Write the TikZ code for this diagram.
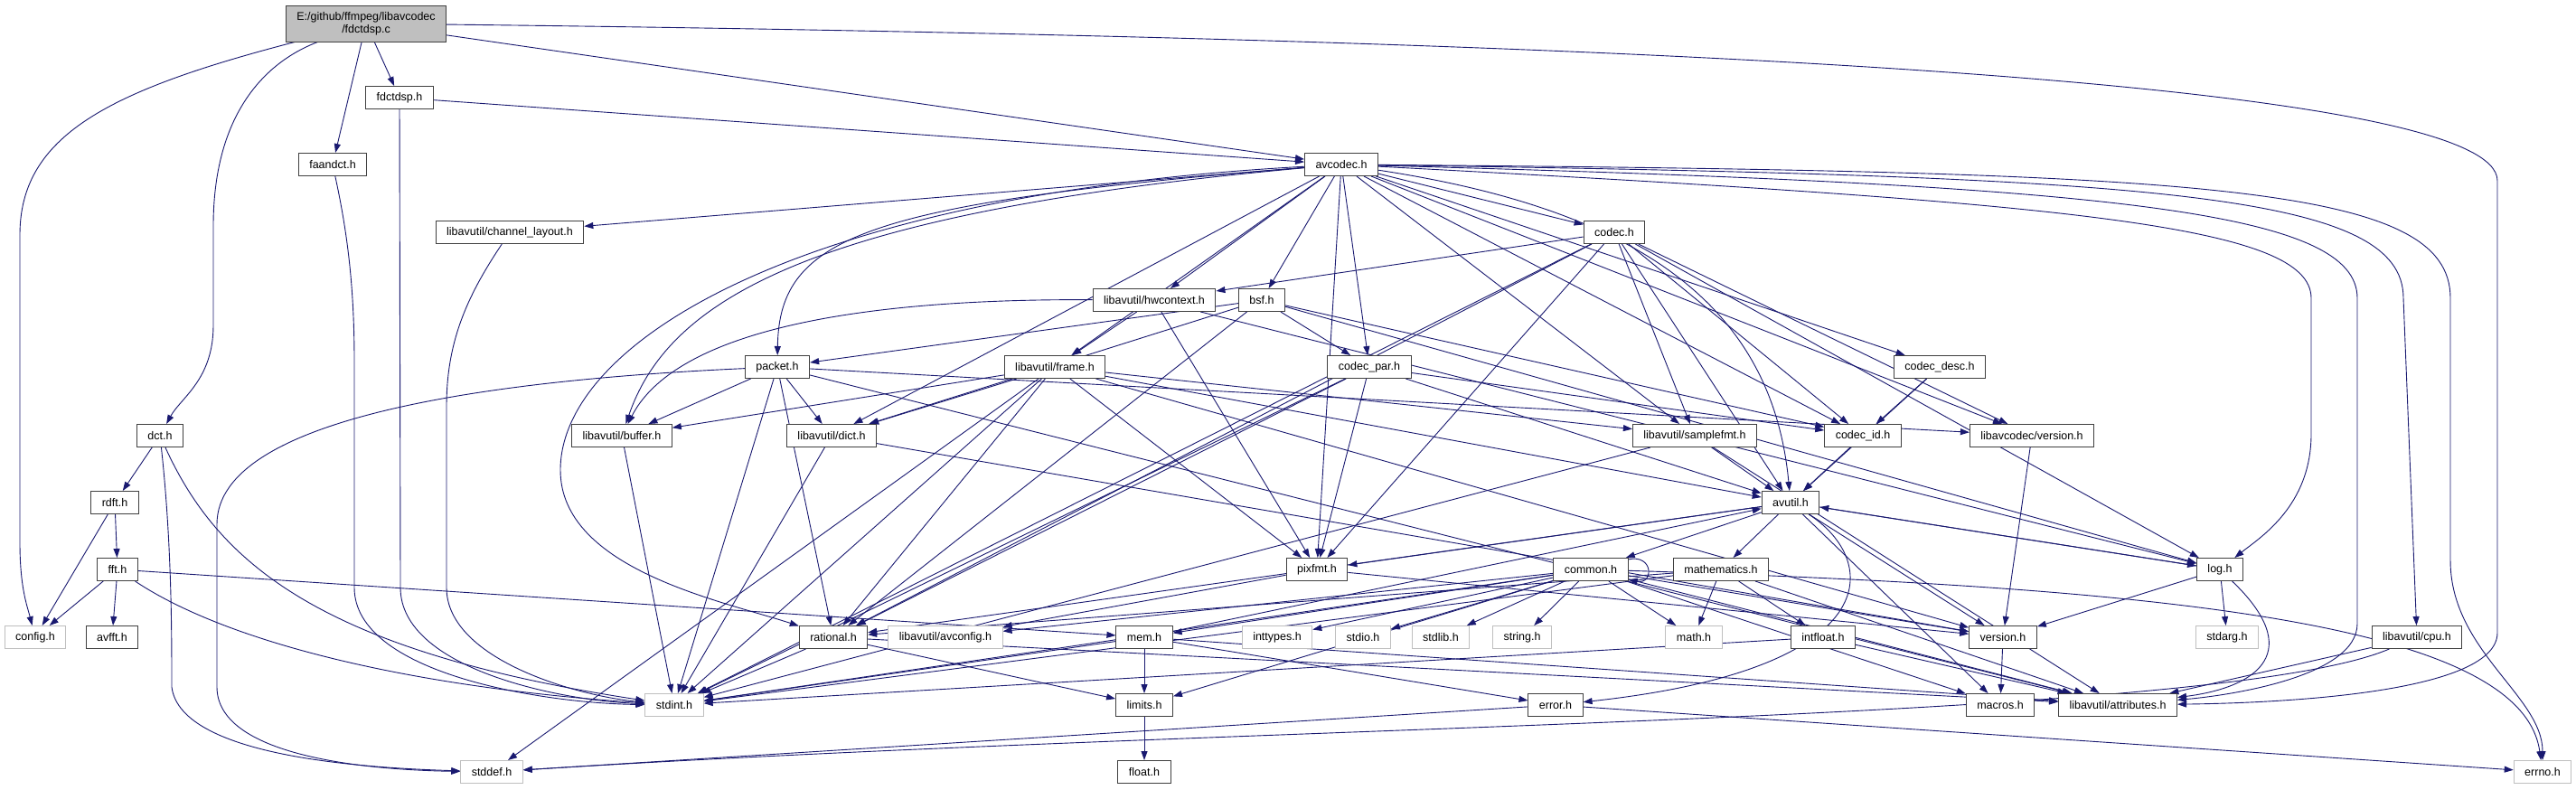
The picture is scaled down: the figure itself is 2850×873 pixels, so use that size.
\documentclass[tikz,border=0pt]{standalone}
\usepackage{fontspec}
\setmainfont{Liberation Sans}
\usetikzlibrary{arrows.meta}
\definecolor{edgeblue}{HTML}{191970}
\definecolor{boxgray}{HTML}{BFBFBF}
\definecolor{boxdark}{HTML}{404040}
\pgfdeclarelayer{back}
\pgfsetlayers{back,main}
\begin{document}
\begin{tikzpicture}[x=1pt, y=-1pt,
    hdr/.style={draw=boxdark, fill=white, line width=1pt, inner xsep=12pt,
      inner ysep=0pt, minimum height=25pt, font=\fontsize{12.5}{14}\selectfont},
    syshdr/.style={hdr, draw=boxgray},
    rootbox/.style={hdr, fill=boxgray, align=center, minimum height=40pt},
    incl/.style={draw=edgeblue, line width=0.9pt, -{Triangle[length=10pt,width=7pt]}}]
  \useasboundingbox (0,0) rectangle (2850,873);
  \node[rootbox] (root) at (405,26) {E:/github/ffmpeg/libavcodec\\/fdctdsp.c};
  \node[hdr] (fdctdsph) at (442,108) {fdctdsp.h};
  \node[hdr] (faandct) at (368,182) {faandct.h};
  \node[hdr] (chlayout) at (564,257) {libavutil/channel\_layout.h};
  \node[hdr] (avcodec) at (1484,182) {avcodec.h};
  \node[hdr] (hwctx) at (1277,332) {libavutil/hwcontext.h};
  \node[hdr] (bsf) at (1396,332) {bsf.h};
  \node[hdr] (codec) at (1786,257) {codec.h};
  \node[hdr] (packet) at (860,406) {packet.h};
  \node[hdr] (frame) at (1167,406) {libavutil/frame.h};
  \node[hdr] (codecpar) at (1515,406) {codec\_par.h};
  \node[hdr] (codecdesc) at (2146,406) {codec\_desc.h};
  \node[hdr] (dct) at (177,482) {dct.h};
  \node[hdr] (buffer) at (688,482) {libavutil/buffer.h};
  \node[hdr] (dict) at (920,482) {libavutil/dict.h};
  \node[hdr] (samplefmt) at (1875,482) {libavutil/samplefmt.h};
  \node[hdr] (codecid) at (2061,482) {codec\_id.h};
  \node[hdr] (lavcver) at (2248,482) {libavcodec/version.h};
  \node[hdr] (rdft) at (127,556) {rdft.h};
  \node[hdr] (avutil) at (1981,556) {avutil.h};
  \node[hdr] (fft) at (130,630) {fft.h};
  \node[hdr] (pixfmt) at (1457,630) {pixfmt.h};
  \node[hdr] (common) at (1760,630) {common.h};
  \node[hdr] (mathematics) at (1904,630) {mathematics.h};
  \node[hdr] (log) at (2456,630) {log.h};
  \node[syshdr] (config) at (39,705) {config.h};
  \node[hdr] (avfft) at (124,705) {avfft.h};
  \node[hdr] (rational) at (922,705) {rational.h};
  \node[syshdr] (avconfig) at (1046,705) {libavutil/avconfig.h};
  \node[hdr] (mem) at (1266,705) {mem.h};
  \node[syshdr] (inttypes) at (1413,705) {inttypes.h};
  \node[syshdr] (stdio) at (1508,705) {stdio.h};
  \node[syshdr] (stdlib) at (1594,705) {stdlib.h};
  \node[syshdr] (stringh) at (1684,705) {string.h};
  \node[syshdr] (mathh) at (1874,705) {math.h};
  \node[hdr] (intfloat) at (2017,705) {intfloat.h};
  \node[hdr] (version) at (2216,705) {version.h};
  \node[syshdr] (stdarg) at (2464,705) {stdarg.h};
  \node[hdr] (cpu) at (2674,705) {libavutil/cpu.h};
  \node[syshdr] (stdint) at (746,780) {stdint.h};
  \node[hdr] (limits) at (1266,780) {limits.h};
  \node[hdr] (error) at (1721,780) {error.h};
  \node[hdr] (macros) at (2213,780) {macros.h};
  \node[hdr] (attributes) at (2343,780) {libavutil/attributes.h};
  \node[syshdr] (stddef) at (544,854) {stddef.h};
  \node[hdr] (floath) at (1266,854) {float.h};
  \node[syshdr] (errno) at (2813,854) {errno.h};
  \begin{pgfonlayer}{back}
    \fill[white] (0,0) rectangle (2850,873);
    \draw[incl] (root) .. controls (120,100) and (22,150) .. (22,260) -- (22,600) .. controls (22,650) and (30,670) .. (config);
    \draw[incl] (root) .. controls (290,70) and (236,130) .. (236,250) -- (236,360) .. controls (236,420) and (200,440) .. (dct);
    \draw[incl] (root) -- (faandct);
    \draw[incl] (root) -- (fdctdsph);
    \draw[incl] (root) -- (avcodec);
    \draw[incl] (root) .. controls (2000,45) and (2763,100) .. (2763,200) -- (2763,700) .. controls (2763,770) and (2500,778) .. (attributes);
    \draw[incl] (fdctdsph) -- (avcodec);
    \draw[incl] (fdctdsph) -- (443,650) .. controls (443,740) and (620,775) .. (stdint);
    \draw[incl] (faandct) .. controls (385,260) and (392,320) .. (392,400) -- (392,650) .. controls (392,745) and (600,778) .. (stdint);
    \draw[incl] (chlayout) .. controls (515,330) and (494,380) .. (494,450) -- (494,650) .. controls (494,730) and (640,770) .. (stdint);
    \draw[incl] (dct) -- (rdft);
    \draw[incl] (dct) .. controls (190,600) and (190,700) .. (190,760) .. controls (200,840) and (420,850) .. (stddef);
    \draw[incl] (dct) .. controls (240,620) and (350,720) .. (stdint);
    \draw[incl] (rdft) -- (config);
    \draw[incl] (rdft) -- (fft);
    \draw[incl] (fft) -- (config);
    \draw[incl] (fft) -- (avfft);
    \draw[incl] (fft) .. controls (250,710) and (450,760) .. (stdint);
    \draw[incl] (fft) -- (mem);
    \draw[incl] (avcodec) -- (chlayout);
    \draw[incl] (avcodec) .. controls (960,225) and (862,260) .. (packet);
    \draw[incl] (avcodec) .. controls (900,235) and (740,330) .. (buffer);
    \draw[incl] (avcodec) -- (dict);
    \draw[incl] (avcodec) -- (frame);
    \draw[incl] (avcodec) -- (hwctx);
    \draw[incl] (avcodec) -- (bsf);
    \draw[incl] (avcodec) -- (codec);
    \draw[incl] (avcodec) -- (codecpar);
    \draw[incl] (avcodec) -- (codecid);
    \draw[incl] (avcodec) -- (codecdesc);
    \draw[incl] (avcodec) -- (lavcver);
    \draw[incl] (avcodec) -- (pixfmt);
    \draw[incl] (avcodec) .. controls (880,215) and (620,380) .. (620,520) .. controls (620,630) and (800,665) .. (rational);
    \draw[incl] (avcodec) -- (samplefmt);
    \draw[incl] (avcodec) .. controls (1800,230) and (1960,330) .. (avutil);
    \draw[incl] (avcodec) .. controls (2300,225) and (2557,250) .. (2557,330) -- (2557,480) .. controls (2557,560) and (2500,595) .. (log);
    \draw[incl] (avcodec) .. controls (2350,205) and (2608,235) .. (2608,330) -- (2608,690) .. controls (2608,750) and (2460,770) .. (attributes);
    \draw[incl] (avcodec) .. controls (2400,195) and (2659,215) .. (2659,330) -- (cpu);
    \draw[incl] (avcodec) .. controls (2450,190) and (2711,205) .. (2711,330) -- (2711,620) .. controls (2711,720) and (2813,770) .. (errno);
    \draw[incl] (packet) .. controls (550,420) and (240,460) .. (240,580) -- (240,760) .. controls (240,840) and (420,852) .. (stddef);
    \draw[incl] (packet) -- (buffer);
    \draw[incl] (packet) -- (dict);
    \draw[incl] (packet) -- (rational);
    \draw[incl] (packet) -- (stdint);
    \draw[incl] (packet) -- (attributes);
    \draw[incl] (packet) -- (lavcver);
    \draw[incl] (buffer) -- (stdint);
    \draw[incl] (dict) -- (stdint);
    \draw[incl] (dict) -- (version);
    \draw[incl] (frame) -- (stddef);
    \draw[incl] (frame) -- (stdint);
    \draw[incl] (frame) -- (avutil);
    \draw[incl] (frame) -- (buffer);
    \draw[incl] (frame) -- (dict);
    \draw[incl] (frame) -- (rational);
    \draw[incl] (frame) -- (samplefmt);
    \draw[incl] (frame) -- (pixfmt);
    \draw[incl] (frame) -- (version);
    \draw[incl] (hwctx) .. controls (900,330) and (740,380) .. (buffer);
    \draw[incl] (hwctx) -- (frame);
    \draw[incl] (hwctx) -- (log);
    \draw[incl] (hwctx) -- (pixfmt);
    \draw[incl] (bsf) -- (dict);
    \draw[incl] (bsf) -- (log);
    \draw[incl] (bsf) -- (rational);
    \draw[incl] (bsf) -- (codecid);
    \draw[incl] (bsf) -- (codecpar);
    \draw[incl] (bsf) -- (packet);
    \draw[incl] (codec) -- (stdint);
    \draw[incl] (codec) -- (hwctx);
    \draw[incl] (codec) -- (log);
    \draw[incl] (codec) -- (pixfmt);
    \draw[incl] (codec) -- (rational);
    \draw[incl] (codec) -- (samplefmt);
    \draw[incl] (codec) -- (avutil);
    \draw[incl] (codec) -- (codecid);
    \draw[incl] (codec) -- (lavcver);
    \draw[incl] (codecpar) -- (stdint);
    \draw[incl] (codecpar) -- (avutil);
    \draw[incl] (codecpar) -- (rational);
    \draw[incl] (codecpar) -- (pixfmt);
    \draw[incl] (codecpar) -- (codecid);
    \draw[incl] (codecdesc) -- (avutil);
    \draw[incl] (codecdesc) -- (codecid);
    \draw[incl] (codecid) -- (avutil);
    \draw[incl] (lavcver) -- (version);
    \draw[incl] (samplefmt) -- (avutil);
    \draw[incl] (samplefmt) -- (attributes);
    \draw[incl] (samplefmt) -- (stdint);
    \draw[incl] (avutil) -- (common);
    \draw[incl] (avutil) .. controls (2080,620) and (2090,740) .. (error);
    \draw[incl] (avutil) -- (rational);
    \draw[incl] (avutil) -- (version);
    \draw[incl] (avutil) -- (macros);
    \draw[incl] (avutil) -- (mathematics);
    \draw[incl] (avutil) -- (log);
    \draw[incl] (avutil) -- (pixfmt);
    \draw[incl] (pixfmt) -- (avconfig);
    \draw[incl] (pixfmt) -- (version);
    \draw[incl] (common) .. controls (2400,650) and (2790,690) .. (errno);
    \draw[incl] (common) -- (inttypes);
    \draw[incl] (common) -- (limits);
    \draw[incl] (common) -- (mathh);
    \draw[incl] (common) -- (stdint);
    \draw[incl] (common) -- (stdio);
    \draw[incl] (common) -- (stdlib);
    \draw[incl] (common) -- (stringh);
    \draw[incl] (common) -- (attributes);
    \draw[incl] (common) -- (macros);
    \draw[incl] (common) -- (version);
    \draw[incl] (common) -- (avconfig);
    \draw[incl] (common) -- (mem);
    \draw[incl] (common.15) .. controls +(28,-6) and +(28,6) .. (common.-15);
    \draw[incl] (mathematics) -- (stdint);
    \draw[incl] (mathematics) -- (mathh);
    \draw[incl] (mathematics) -- (attributes);
    \draw[incl] (mathematics) -- (rational);
    \draw[incl] (mathematics) -- (intfloat);
    \draw[incl] (log) -- (stdarg);
    \draw[incl] (log) -- (avutil);
    \draw[incl] (log) .. controls (2550,720) and (2500,760) .. (attributes);
    \draw[incl] (log) -- (version);
    \draw[incl] (mem) -- (limits);
    \draw[incl] (mem) -- (stdint);
    \draw[incl] (mem) -- (attributes);
    \draw[incl] (mem) -- (error);
    \draw[incl] (mem) -- (avutil);
    \draw[incl] (rational) -- (stdint);
    \draw[incl] (rational) -- (limits);
    \draw[incl] (rational) -- (attributes);
    \draw[incl] (intfloat) -- (stdint);
    \draw[incl] (intfloat) -- (attributes);
    \draw[incl] (error) -- (errno);
    \draw[incl] (error) -- (stddef);
    \draw[incl] (version) -- (macros);
    \draw[incl] (limits) -- (floath);
    \draw[incl] (cpu) -- (attributes);
    \draw[incl] (cpu) .. controls (2450,800) and (1400,800) .. (stddef);
  \end{pgfonlayer}
\end{tikzpicture}
\end{document}
